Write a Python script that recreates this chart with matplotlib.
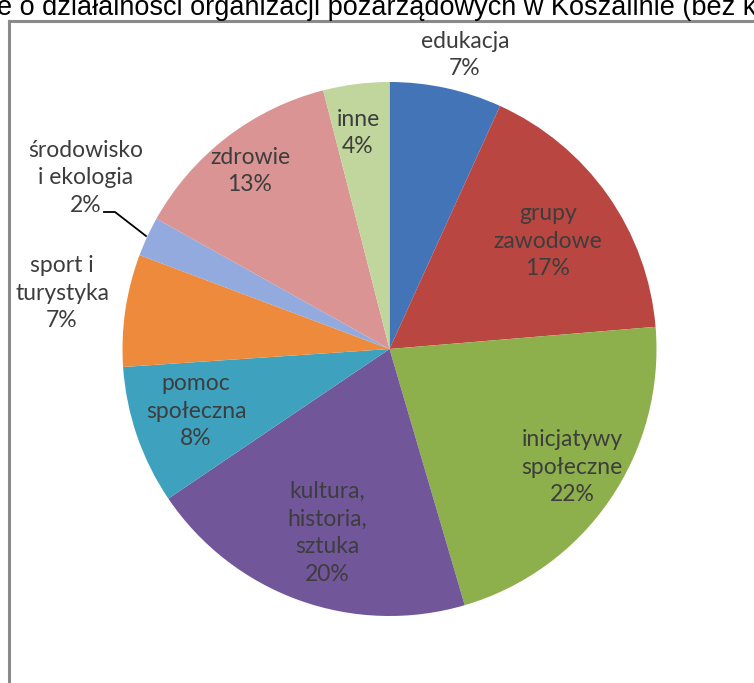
import matplotlib
matplotlib.use("Agg")
import matplotlib.pyplot as plt
from matplotlib.lines import Line2D

# Dziedziny działalności organizacji pozarządowych (udział w %)
categories = [
    "edukacja",
    "grupy\nzawodowe",
    "inicjatywy\nspołeczne",
    "kultura,\nhistoria,\nsztuka",
    "pomoc\nspołeczna",
    "sport i\nturystyka",
    "środowisko\ni ekologia",
    "zdrowie",
    "inne",
]
shares = [6.8, 16.9, 21.8, 20.1, 8.4, 6.8, 2.4, 12.9, 4.0]
colors = ["#4374b8", "#b94640", "#8db04c", "#71569a", "#3ea2bf",
          "#ee8a3c", "#93aade", "#d99493", "#c1d69c"]

W, H = 754, 683
fig = plt.figure(figsize=(W / 100, H / 100), dpi=100)
ax = fig.add_axes([0, 0, 1, 1])

cx, cy, r = 389.5, H - 349, 267
ax.pie(shares, colors=colors, startangle=90, counterclock=False,
       center=(cx, cy), radius=r, frame=True,
       wedgeprops=dict(linewidth=0))
ax.set_xlim(0, W)
ax.set_ylim(0, H)
ax.set_aspect("equal")
ax.axis("off")

# pozycje etykiet (piksele obrazu: x, y od góry)
label_pos = [(465, 55), (548, 241), (572, 467), (327, 533), (196, 411),
             (62, 293), (86, 178), (250, 171), (358, 133)]
total = sum(shares)
for name, val, (lx, ly) in zip(categories, shares, label_pos):
    ax.text(lx, H - ly, f"{name}\n{val / total * 100:.0f}%",
            ha="center", va="center", fontsize=16.5, family="Lato",
            color="#3d3d3d", linespacing=1.38)

# linia odniesienia dla małego wycinka
ax.add_line(Line2D([104, 115, 146], [H - 212, H - 212, H - 236],
                   color="black", lw=1.3))

# ramka wykresu (przycięta)
fig.add_artist(Line2D([9 / W, 9 / W], [0, 1 - 21 / H], color="#8a8a8a",
                      lw=2.2, transform=fig.transFigure))
fig.add_artist(Line2D([9 / W, 1], [1 - 21 / H, 1 - 21 / H], color="#8a8a8a",
                      lw=2.2, transform=fig.transFigure))

# tytuł przycięty u góry
fig.text(-0.024, 1 - 15 / H, "ne o działalności organizacji pozarządowych w Koszalinie (bez kraju)",
         ha="left", va="baseline", fontsize=19.5, family="Liberation Sans",
         color="black")

fig.savefig("out.png", dpi=100)
